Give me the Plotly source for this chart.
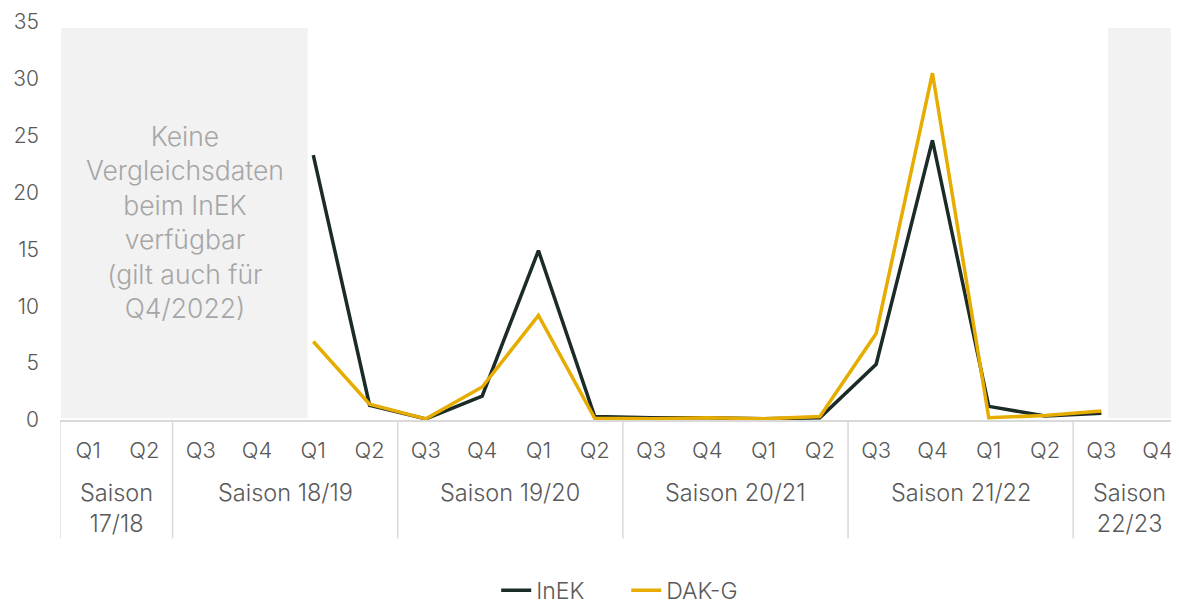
import plotly.graph_objects as go

season_names = ["Saison<br>17/18", "Saison 18/19", "Saison 19/20",
                "Saison 20/21", "Saison 21/22", "Saison<br>22/23"]
season_sizes = [2, 4, 4, 4, 4, 2]
quarters = ["Q1", "Q2", "Q3", "Q4", "Q1", "Q2", "Q3", "Q4", "Q1", "Q2",
            "Q3", "Q4", "Q1", "Q2", "Q3", "Q4", "Q1", "Q2", "Q3", "Q4"]
season_codes = ["17/18"] * 2 + ["18/19"] * 4 + ["19/20"] * 4 + \
               ["20/21"] * 4 + ["21/22"] * 4 + ["22/23"] * 2
periods = [f"{q} {s}" for q, s in zip(quarters, season_codes)]

inek = [None, None, None, None, 23.3, 1.3, 0.1, 2.1, 14.9, 0.3,
        0.2, 0.2, 0.1, 0.2, 4.9, 24.6, 1.2, 0.35, 0.6, None]
dakg = [None, None, None, None, 6.9, 1.4, 0.1, 2.9, 9.2, 0.15,
        0.1, 0.2, 0.1, 0.3, 7.6, 30.5, 0.2, 0.4, 0.8, None]

note = "Keine<br>Vergleichsdaten<br>beim InEK<br>verfügbar<br>(gilt auch für<br>Q4/2022)"

FONT = "Inter"
TXT = "#595959"
GRID = "#d9d9d9"

fig = go.Figure()
fig.add_trace(go.Scatter(x=periods, y=inek, name="InEK", mode="lines",
                         line=dict(color="#1a2b28", width=3.5), connectgaps=False))
fig.add_trace(go.Scatter(x=periods, y=dakg, name="DAK-G", mode="lines",
                         line=dict(color="#e6ad00", width=3.5), connectgaps=False))

# shaded "no data" zones
fig.add_shape(type="rect", xref="x", yref="y", x0=-0.48, x1=3.9, y0=0.15, y1=34.5,
              fillcolor="#f2f2f2", line_width=0, layer="below")
fig.add_shape(type="rect", xref="x", yref="y", x0=18.12, x1=19.6, y0=0.15, y1=34.5,
              fillcolor="#f2f2f2", line_width=0, layer="below")

fig.add_annotation(x=1.72, y=17.4, xref="x", yref="y", text=note, showarrow=False,
                   font=dict(family=FONT, size=26.5, color="#a6a6a6", weight=300),
                   align="center")

# season group labels and dividers
start = 0
bounds = [-0.5]
for name, n in zip(season_names, season_sizes):
    center = start + (n - 1) / 2
    fig.add_annotation(x=center, y=-0.14, xref="x", yref="paper", text=name,
                       showarrow=False, yanchor="top", align="center",
                       font=dict(family=FONT, size=23.5, color=TXT, weight=300))
    start += n
    bounds.append(start - 0.5)
for b in bounds:
    fig.add_shape(type="line", xref="x", yref="paper", x0=b, x1=b, y0=0, y1=-0.297,
                  line=dict(color=GRID, width=1.5))

fig.update_layout(
    width=1171, height=612,
    margin=dict(l=52, r=0, t=14, b=200),
    plot_bgcolor="white", paper_bgcolor="white",
    font=dict(family=FONT, size=22, color=TXT, weight=300),
    showlegend=True,
    legend=dict(orientation="h", x=0.506, xanchor="center", y=-0.428, yanchor="middle",
                entrywidth=85, entrywidthmode="pixels",
                font=dict(family=FONT, size=23, color=TXT, weight=300)),
    xaxis=dict(type="category", range=[-0.5, 19.38], showgrid=False, automargin=False,
               showline=True, linecolor=GRID, linewidth=1.5,
               tickvals=periods, ticktext=quarters, ticks="", ticklabelstandoff=10,
               tickfont=dict(family=FONT, size=22, color=TXT, weight=300)),
    yaxis=dict(range=[0, 35], dtick=5, showgrid=False, zeroline=False, showline=False,
               ticklabelstandoff=20, automargin=False,
               tickfont=dict(family=FONT, size=21, color=TXT, weight=300)),
)

fig.write_html("out.html")
